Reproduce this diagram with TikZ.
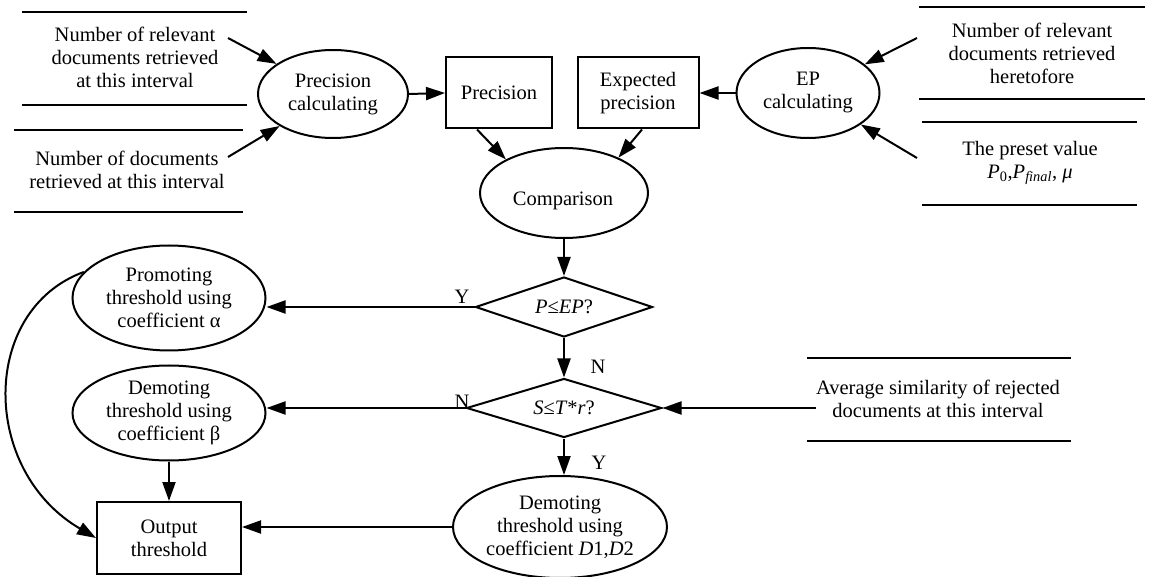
\documentclass[tikz,border=0pt]{standalone}
\usepackage{fontspec}
\setmainfont{Liberation Serif}
\usetikzlibrary{shapes.geometric,arrows.meta,calc}
\begin{document}
\begin{tikzpicture}[x=1pt,y=-1pt,
  font=\fontsize{20.5}{23}\selectfont,
  every node/.style={align=center,inner sep=0pt},
  ell/.style={draw,ellipse,line width=2pt},
  box/.style={draw,rectangle,line width=2pt},
  dia/.style={draw,diamond,aspect=3,line width=2pt},
  arr/.style={-{Triangle[length=19pt,width=13pt]},line width=2pt},
  rule/.style={line width=2pt}]
\useasboundingbox (0,0) rectangle (1149,577);

% data stores
\draw[rule] (22,12) -- (247,12) (22,105) -- (247,105);
\node (t1) at (135,57) {Number of relevant\\documents retrieved\\at this interval};
\draw[rule] (14,130) -- (243,130) (14,212) -- (243,212);
\node (t2) at (127,170) {Number of documents\\retrieved at this interval};
\draw[rule] (919,7) -- (1145,7) (919,99) -- (1145,99);
\node (t3) at (1032,53) {Number of relevant\\documents retrieved\\heretofore};
\draw[rule] (922,122) -- (1137,122) (922,205) -- (1137,205);
\node (t4) at (1030,163) {The preset value\\\textit{P}\textsubscript{0},\textit{P}\textsubscript{\textit{final}}, \textit{μ}};
\draw[rule] (807,358) -- (1071,358) (807,441) -- (1071,441);
\node (t5) at (938,399) {Average similarity of rejected\\documents at this interval};

% process nodes
\node[ell,minimum width=150pt,minimum height=88pt] (pc) at (333,94) {Precision\\calculating};
\node[box,minimum width=106pt,minimum height=71pt] (prec) at (499,93) {Precision};
\node[box,minimum width=121pt,minimum height=71pt] (exp) at (638,93) {Expected\\precision};
\node[ell,minimum width=143pt,minimum height=90pt] (epc) at (808,93) {EP\\calculating};
\node[ell,minimum width=168pt,minimum height=90pt] (cmp) at (564,193) {};
\node (cmpt) at (563,201) {Comparison};
\node[dia,minimum width=177pt,minimum height=60pt] (d1) at (564,307) {\textit{P}≤\textit{EP}?};
\node[dia,minimum width=195pt,minimum height=59pt] (d2) at (564,408) {\textit{S}≤\textit{T}*\textit{r}?};
\node[ell,minimum width=193pt,minimum height=105pt] (prom) at (169,298) {Promoting\\threshold using\\coefficient α};
\node[ell,minimum width=193pt,minimum height=95pt] (dem) at (169,413) {Demoting\\threshold using\\coefficient β};
\node[box,minimum width=144pt,minimum height=72pt] (out) at (169,538) {Output\\threshold};
\node[ell,minimum width=214pt,minimum height=102pt] (ddd) at (560,527) {Demoting\\threshold using\\coefficient \textit{D}1,\textit{D}2};

% free ends
\coordinate (s1) at (228,38);
\coordinate (s2) at (228,157);
\coordinate (s3) at (917,38);
\coordinate (s4) at (917,158);

% connectors
\draw[arr] (s1) -- (pc);
\draw[arr] (s2) -- (pc);
\draw[arr] (s3) -- (epc);
\draw[arr] (s4) -- (epc);
\draw[arr] (pc.east) -- (prec.west);
\draw[arr] (epc.west) -- (exp.east);
\draw[arr] ($(prec.south)+(-22,0)$) -- (cmp.150);
\draw[arr] ($(exp.south)+(4,0)$) -- (cmp.33);
\draw[arr] (cmp.south) -- (d1.north);
\draw[arr] (d1.south) -- (d2.north);
\draw[arr] (d2.south) -- (d2.south |- ddd.north);
\draw[arr] (d1.west) -- (d1.west -| prom.east);
\draw[arr] (d2.west) -- (d2.west -| dem.east);
\draw[arr] (t5.west |- d2.east) -- (d2.east);
\draw[arr] (dem.south) -- (dem.south |- out.north);
\draw[arr] (ddd.west) -- (ddd.west -| out.east);
\draw[arr] (prom.163) .. controls (-20,310) and (-20,470) .. (out.west);

% labels
\node (ly1) at (462,297) {Y};
\node (ln1) at (598,367) {N};
\node (ln2) at (462,402) {N};
\node (ly2) at (599,463) {Y};
\end{tikzpicture}
\end{document}
